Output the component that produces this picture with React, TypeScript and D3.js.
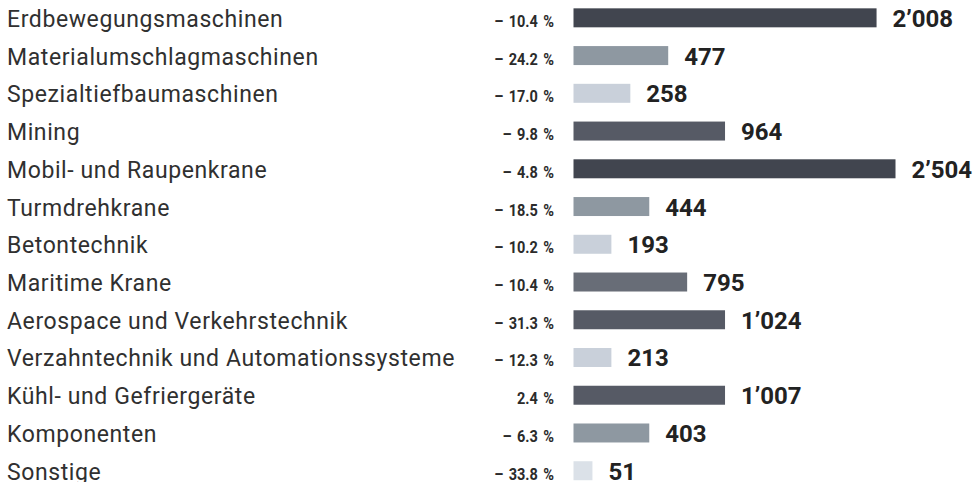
import React from "react";
import * as d3 from "d3";

const categories = [
  "Erdbewegungsmaschinen",
  "Materialumschlagmaschinen",
  "Spezialtiefbaumaschinen",
  "Mining",
  "Mobil- und Raupenkrane",
  "Turmdrehkrane",
  "Betontechnik",
  "Maritime Krane",
  "Aerospace und Verkehrstechnik",
  "Verzahntechnik und Automationssysteme",
  "Kühl- und Gefriergeräte",
  "Komponenten",
  "Sonstige",
];
const values = [2008, 477, 258, 964, 2504, 444, 193, 795, 1024, 213, 1007, 403, 51];
const changes = [-10.4, -24.2, -17.0, -9.8, -4.8, -18.5, -10.2, -10.4, -31.3, -12.3, 2.4, -6.3, -33.8];
// bar lengths as drawn in the picture (in equal segments)
const barUnits = [16, 5, 3, 8, 17, 4, 2, 6, 8, 2, 8, 4, 1];

const colors = [
  "#41454f", "#8e98a1", "#c9d0da", "#565a65", "#41454f", "#8e98a1", "#c9d0da",
  "#686d77", "#565a65", "#c9d0da", "#565a65", "#8e98a1", "#dbe1e8",
];

const W = 979;
const H = 482;

const fmtValue = (v: number) => {
  const s = String(v);
  return s.length > 3 ? s.slice(0, s.length - 3) + "\u2019" + s.slice(-3) : s;
};
const fmtChange = (c: number) =>
  (c < 0 ? "\u2013 " : "") + d3.format(".1f")(Math.abs(c)) + " %";

export default function App() {
  const y = d3
    .scaleBand<string>()
    .domain(categories)
    .range([-1.1, 489.65])
    .paddingInner(0.497)
    .paddingOuter(0.25);
  const x = d3.scaleLinear().domain([0, 17]).range([573.5, 895.5]);
  const bh = y.bandwidth();

  return (
    <svg
      width={W}
      height={H}
      style={{ position: "absolute", left: 0, top: 0, background: "#fff" }}
    >
      {categories.map((c, i) => {
        const top = y(c) as number;
        const base = top + bh - 0.5;
        return (
          <g key={c}>
            <text
              x={7}
              y={base}
              fontFamily="Roboto, 'Noto Sans', sans-serif"
              fontSize={23}
              letterSpacing={0.6}
              fill="#303030"
            >
              {c}
            </text>
            <g transform={`translate(554,${base}) scale(0.88,1)`}>
              <text
                x={0}
                y={0}
                textAnchor="end"
                fontFamily="Roboto, sans-serif"
                fontWeight="bold"
                fontSize={16.5}
                wordSpacing={2}
                fill="#2b2b2b"
              >
                {fmtChange(changes[i])}
              </text>
            </g>
            <rect
              x={x(0)}
              y={top}
              width={x(barUnits[i]) - x(0)}
              height={bh}
              fill={colors[i]}
            />
            <text
              x={x(barUnits[i]) + 16}
              y={base}
              fontFamily="Roboto, 'Noto Sans', sans-serif"
              fontWeight="bold"
              fontSize={24}
              fill="#222"
            >
              {fmtValue(values[i])}
            </text>
          </g>
        );
      })}
    </svg>
  );
}
